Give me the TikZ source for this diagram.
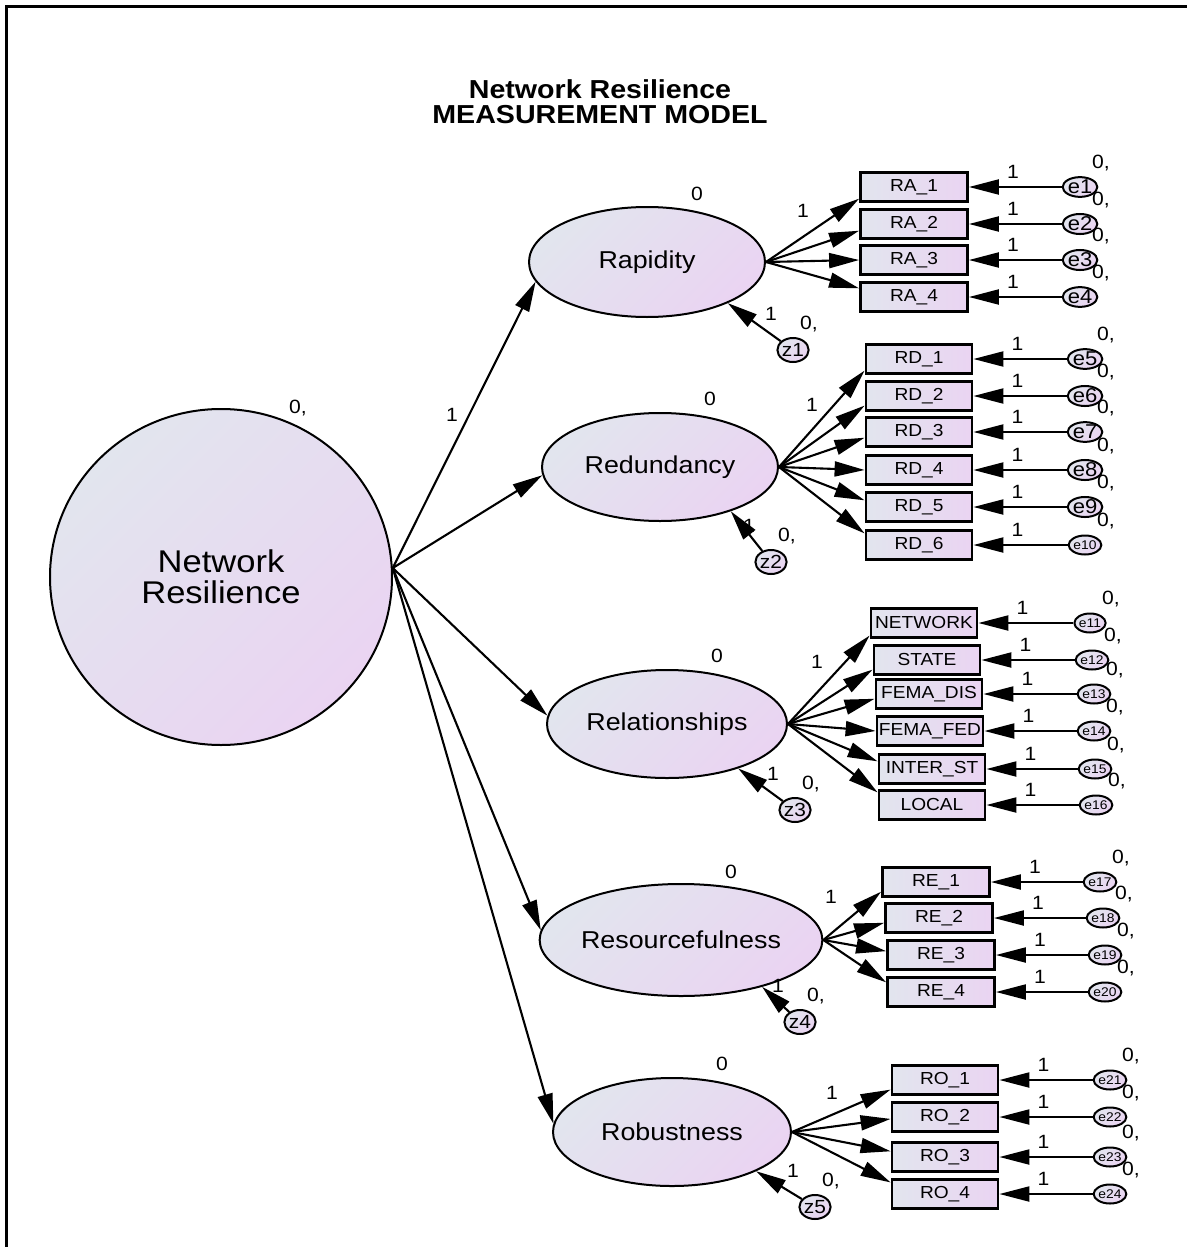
\documentclass[tikz,border=0pt]{standalone}
\usepackage{fontspec}
\setmainfont{Liberation Sans}[FakeStretch=1.1]
\usetikzlibrary{shapes.geometric,arrows.meta}
\definecolor{shA}{HTML}{E2E5EE}
\definecolor{shB}{HTML}{EAD4F2}
\begin{document}
\begin{tikzpicture}[x=0.5pt,y=-0.5pt,
  gfill/.style={top color=shA, bottom color=shB, shading angle=45},
  latent/.style={ellipse, draw, line width=1pt, gfill, inner sep=0pt,
    font=\fontsize{12.2}{14}\selectfont},
  obs/.style={rectangle, draw, line width=1.4pt, left color=shA, right color=shB,
    inner sep=0pt, minimum width=53pt, minimum height=14.5pt,
    font=\fontsize{8.7}{10}\selectfont},
  err/.style={ellipse, draw, line width=1pt, gfill, inner sep=0pt,
    minimum width=13pt, minimum height=9.5pt, font=\fontsize{10}{11}\selectfont},
  errs/.style={err, font=\fontsize{6.3}{7}\selectfont},
  dist/.style={err, minimum width=13pt, minimum height=12pt, font=\fontsize{9.5}{10}\selectfont},
  arr/.style={line width=1.05pt, -{Triangle[length=15pt,width=7.5pt]}},
  num/.style={inner sep=0pt, font=\fontsize{9.6}{11}\selectfont},
  ttl/.style={align=center, inner sep=0pt, font=\bfseries\fontsize{13}{12.5}\selectfont}
]
\useasboundingbox (0,0) rectangle (1187,1247);
% frame (top and left edges)
\draw[line width=1.6pt] (6.5,1247) -- (6.5,6.5) -- (1187,6.5);

% title
\node[ttl] (title) at (600,102) {Network Resilience\\MEASUREMENT MODEL};

% second-order factor
\node[ellipse, draw, line width=1pt, gfill, minimum width=171pt, minimum height=168pt,
  align=center, font=\fontsize{15.7}{15.5}\selectfont] (nr) at (221,577) {Network\\Resilience};
\node[num] (nrv) at (298,408) {0,};
\coordinate (hub) at (nr.3);

% first-order factors
\node[latent, minimum width=118pt, minimum height=55pt] (rap) at (647,262) {Rapidity};
\node[latent, minimum width=118pt, minimum height=54pt] (red) at (660,467) {Redundancy};
\node[latent, minimum width=120pt, minimum height=54pt] (rel) at (667,724) {Relationships};
\node[latent, minimum width=123pt, minimum height=56pt] (res) at (681,940) {Resourcefulness};
\node[latent, minimum width=119pt, minimum height=54pt] (rob) at (672,1132) {Robustness};
\foreach \f in {rap,red,rel,res,rob}
  \node[num] (\f-m) at ([shift={(25pt,34pt)}]\f.center) {0};

% structural paths
\draw[arr] (hub) -- (rap.190);
\draw[arr] (hub) -- (red.184);
\draw[arr] (hub) -- (rel.176);
\draw[arr] (hub) -- (res.176);
\draw[arr] (hub) -- (rob.176);
\node[num] (l-rap) at (452,415) {1};

% disturbances
\node[dist] (z1) at (793,350) {z1};
\node[dist] (z2) at (771,562) {z2};
\node[dist] (z3) at (795,810) {z3};
\node[dist] (z4) at (800,1022) {z4};
\node[dist] (z5) at (815,1207) {z5};
\draw[arr] (z1) -- (rap.333);
\draw[arr] (z2) -- (red.328);
\draw[arr] (z3) -- (rel.328);
\draw[arr] (z4) -- (res.330);
\draw[arr] (z5) -- (rob.335);
\foreach \z in {z1,z2,z3,z4,z5}{
  \node[num] (\z-w) at ([shift={(-11pt,18pt)}]\z.center) {1};
  \node[num] (\z-v) at ([shift={(8pt,13pt)}]\z.center) {0,};
}

% indicators
\node[obs, minimum width=53.5pt] (ra1) at (914,187) {RA\_1};
\node[obs, minimum width=53.5pt] (ra2) at (914,224) {RA\_2};
\node[obs, minimum width=53.5pt] (ra3) at (914,260) {RA\_3};
\node[obs, minimum width=53.5pt] (ra4) at (914,297) {RA\_4};

\node[obs] (rd1) at (919,359) {RD\_1};
\node[obs] (rd2) at (919,396) {RD\_2};
\node[obs] (rd3) at (919,432) {RD\_3};
\node[obs] (rd4) at (919,470) {RD\_4};
\node[obs] (rd5) at (919,507) {RD\_5};
\node[obs] (rd6) at (919,545) {RD\_6};

\node[obs] (net) at (924,623) {NETWORK};
\node[obs] (sta) at (927,660) {STATE};
\node[obs] (fdis) at (929,694) {FEMA\_DIS};
\node[obs] (ffed) at (930,731) {FEMA\_FED};
\node[obs] (ist) at (932,769) {INTER\_ST};
\node[obs] (loc) at (932,805) {LOCAL};

\node[obs, minimum width=53.5pt] (re1) at (936,882) {RE\_1};
\node[obs, minimum width=53.5pt] (re2) at (939,918) {RE\_2};
\node[obs, minimum width=53.5pt] (re3) at (941,955) {RE\_3};
\node[obs, minimum width=53.5pt] (re4) at (941,992) {RE\_4};

\node[obs] (ro1) at (945,1080) {RO\_1};
\node[obs] (ro2) at (945,1117) {RO\_2};
\node[obs] (ro3) at (945,1157) {RO\_3};
\node[obs] (ro4) at (945,1194) {RO\_4};

% loadings
\foreach \b/\a in {ra1/192,ra2/187,ra3/180,ra4/171}
  \draw[arr] (rap.east) -- (\b.\a);
\foreach \b/\a in {rd1/192,rd2/190,rd3/186,rd4/180,rd5/173,rd6/168}
  \draw[arr] (red.east) -- (\b.\a);
\foreach \b/\a in {net/193,sta/190,fdis/185,ffed/180,ist/172,loc/167}
  \draw[arr] (rel.east) -- (\b.\a);
\foreach \b/\a in {re1/190,re2/185,re3/176,re4/170}
  \draw[arr] (res.east) -- (\b.\a);
\foreach \b/\a in {ro1/190,ro2/182,ro3/174,ro4/168}
  \draw[arr] (rob.east) -- (\b.\a);
\node[num] (l-ra) at (803,211) {1};
\node[num] (l-rd) at (812,405) {1};
\node[num] (l-net) at (817,662) {1};
\node[num] (l-re) at (831,897) {1};
\node[num] (l-ro) at (832,1093) {1};

% unique errors
\foreach \e/\s/\x/\b in {e1/err/1080/ra1,e2/err/1080/ra2,e3/err/1080/ra3,e4/err/1080/ra4,
    e5/err/1085/rd1,e6/err/1085/rd2,e7/err/1085/rd3,e8/err/1085/rd4,e9/err/1085/rd5,
    e10/errs/1085/rd6,e11/errs/1090/net,e12/errs/1092/sta,e13/errs/1094/fdis,
    e14/errs/1094/ffed,e15/errs/1095/ist,e16/errs/1096/loc,
    e17/errs/1100/re1,e18/errs/1103/re2,e19/errs/1105/re3,e20/errs/1105/re4,
    e21/errs/1110/ro1,e22/errs/1110/ro2,e23/errs/1110/ro3,e24/errs/1110/ro4}{
  \node[\s] (\e) at (\b.center -| \x,0) {\e};
  \draw[arr] (\e) -- (\b.east);
  \node[num] (\e-w) at ([shift={(22pt,7.5pt)}]\b.east) {1};
  \node[num] (\e-v) at ([shift={(10.5pt,12pt)}]\e.center) {0,};
}
\end{tikzpicture}
\end{document}
